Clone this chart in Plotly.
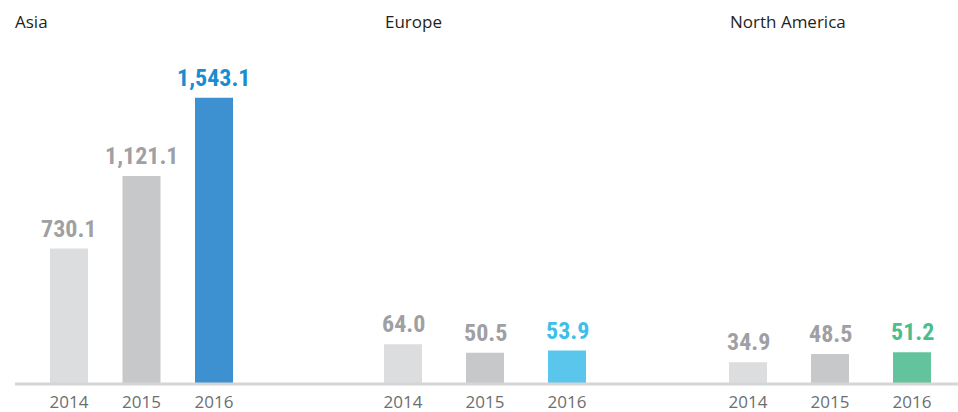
import plotly.graph_objects as go

W, H = 958, 412

years = ["2014", "2015", "2016"]
regions = ["Asia", "Europe", "North America"]
asia_values = [730.1, 1121.1, 1543.1]
europe_values = [64.0, 50.5, 53.9]
north_america_values = [34.9, 48.5, 51.2]
value_labels = {
    "Asia": ["730.1", "1,121.1", "1,543.1"],
    "Europe": ["64.0", "50.5", "53.9"],
    "North America": ["34.9", "48.5", "51.2"],
}

bar_colors = {
    "Asia": ["#dcdddf", "#c7c8ca", "#3d91d0"],
    "Europe": ["#dcdddf", "#c7c8ca", "#5bc6ec"],
    "North America": ["#dcdddf", "#c7c8ca", "#62c39c"],
}
label_colors = {
    "Asia": ["#9fa0a3", "#9fa0a3", "#1b8cd0"],
    "Europe": ["#9fa0a3", "#9fa0a3", "#3dbfe9"],
    "North America": ["#9fa0a3", "#9fa0a3", "#4cbd8d"],
}

def px(x):
    return x / W

def py(y):
    return 1 - y / H

baseline = 384
panels = {
    "Asia": dict(x0=32.75, x1=250.25, ymax=2070, ax="x", ay="y", title_x=13),
    "Europe": dict(x0=362, x1=608, ymax=619, ax="x2", ay="y2", title_x=383),
    "North America": dict(x0=707, x1=953, ymax=619, ax="x3", ay="y3", title_x=728),
}
data_by_region = {
    "Asia": asia_values,
    "Europe": europe_values,
    "North America": north_america_values,
}

positions = list(range(len(years)))

fig = go.Figure()
annotations = []
label_font = dict(family="Liberation Sans Narrow, Roboto Condensed, Roboto, sans-serif", size=24)

for reg in regions:
    p = panels[reg]
    vals = data_by_region[reg]
    step = (p["x1"] - p["x0"]) / 3
    fig.add_trace(go.Bar(
        x=positions, y=vals, xaxis=p["ax"], yaxis=p["ay"],
        marker=dict(color=bar_colors[reg], line=dict(width=0)),
        width=38 / step, hoverinfo="skip",
    ))
    for i, v, t, c in zip(positions, vals, value_labels[reg], label_colors[reg]):
        annotations.append(dict(
            x=i, y=v, xref=p["ax"], yref=p["ay"], text="<b>%s</b>" % t,
            showarrow=False, yanchor="bottom", xanchor="center", yshift=4,
            font=dict(color=c, **label_font),
        ))
    annotations.append(dict(
        x=px(p["title_x"]), y=py(22), xref="paper", yref="paper",
        text=reg, showarrow=False, xanchor="left", yanchor="middle",
        font=dict(family="Open Sans, Noto Sans, sans-serif", size=17, color="#231f20"),
    ))

axis_common_x = dict(
    type="linear", range=[-0.5, 2.5], showgrid=False, zeroline=False,
    showline=False, ticks="", fixedrange=True,
    tickmode="array", tickvals=positions, ticktext=years,
    ticklabelstandoff=6,
    tickfont=dict(family="Open Sans, Noto Sans, sans-serif", size=17, color="#6d6e70"),
)
axis_common_y = dict(visible=False, showgrid=False, zeroline=False, fixedrange=True)

layout = dict(
    width=W, height=H, autosize=False,
    margin=dict(l=0, r=0, t=0, b=0, pad=0),
    paper_bgcolor="white", plot_bgcolor="white",
    showlegend=False, annotations=annotations,
    shapes=[dict(type="line", xref="paper", yref="paper",
                 x0=px(15), x1=1, y0=py(baseline), y1=py(baseline),
                 line=dict(color="#d5d5d6", width=3), layer="above")],
)
for reg, suffix in zip(regions, ["", "2", "3"]):
    p = panels[reg]
    layout["xaxis" + suffix] = dict(axis_common_x, domain=[px(p["x0"]), px(p["x1"])],
                                    anchor="y" + suffix)
    layout["yaxis" + suffix] = dict(axis_common_y, domain=[py(baseline), 1],
                                    range=[0, p["ymax"]], anchor="x" + suffix)

fig.update_layout(**layout)
fig.write_html("out.html", config={"displayModeBar": False},
               post_script="document.body.style.margin='0px';document.body.style.overflow='hidden';")
